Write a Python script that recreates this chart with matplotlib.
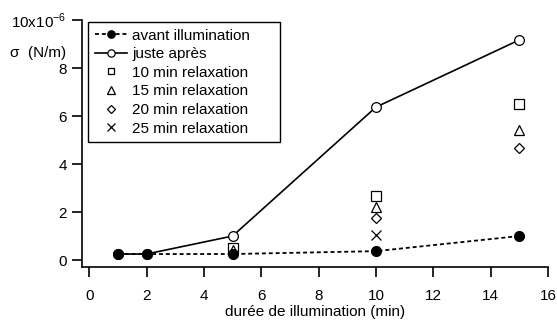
import numpy as np
import matplotlib
matplotlib.use("Agg")
import matplotlib.pyplot as plt

plt.rcParams['font.family'] = ['Liberation Sans', 'DejaVu Sans']
plt.rcParams['mathtext.fontset'] = 'custom'
plt.rcParams['mathtext.rm'] = 'Liberation Sans'

# durée d'illumination (min) et tension de surface (x1e-6 N/m)
t_avant = [1, 2, 5, 10, 15]
s_avant = [0.25, 0.25, 0.25, 0.37, 1.0]
t_apres = [1, 2, 5, 10, 15]
s_apres = [0.25, 0.25, 1.0, 6.37, 9.17]
t_r10 = [5, 10, 15]
s_r10 = [0.5, 2.67, 6.5]
t_r15 = [5, 10, 15]
s_r15 = [0.4, 2.2, 5.42]
t_r20 = [10, 15]
s_r20 = [1.75, 4.67]
t_r25 = [10]
s_r25 = [1.04]

yticks = [0, 2, 4, 6, 8, 10]
ytick_labels = ['0', '2', '4', '6', '8', r'10x10$^{\mathregular{-6}}$']
xticks = np.arange(0, 17, 2)

fs = 11

fig = plt.figure(figsize=(5.57, 3.21), dpi=100)
ax = fig.add_axes([82 / 557, 54 / 321, 466 / 557, 247 / 321])

ax.plot(t_apres, s_apres, '-', color='black', lw=1.2, marker='o', ms=7,
        mfc='white', mec='black', mew=0.9, label='juste après', zorder=3)
ax.plot(t_avant, s_avant, color='black', lw=1.3, ls=(0, (2.2, 1.6)), marker='o',
        ms=7, mfc='black', mec='black', label='avant illumination', zorder=4)
ax.plot(t_r10, s_r10, ls='none', marker='s', ms=6.5, mfc='none', mec='black',
        mew=0.9, label='10 min relaxation', zorder=3)
ax.plot(t_r15, s_r15, ls='none', marker='^', ms=7, mfc='none', mec='black',
        mew=0.9, label='15 min relaxation', zorder=3)
ax.plot(t_r20, s_r20, ls='none', marker='D', ms=5, mfc='none', mec='black',
        mew=0.9, label='20 min relaxation', zorder=3)
ax.plot(t_r25, s_r25, ls='none', marker='x', ms=7.5, mec='black',
        mew=0.9, label='25 min relaxation', zorder=3)

ax.set_xlim(-0.25, 16)
ax.set_ylim(-0.29, 10)
ax.set_xticks(xticks)
ax.set_yticks(yticks)
ax.set_yticklabels(ytick_labels)
ax.spines['top'].set_visible(False)
ax.spines['right'].set_visible(False)
for s in ['left', 'bottom']:
    ax.spines[s].set_linewidth(1.2)
ax.tick_params(direction='out', length=7, width=1.2, labelsize=fs, pad=4)
ax.tick_params(axis='x', pad=8.5)
ax.set_xlabel('durée de illumination (min)', fontsize=fs, labelpad=2)
fig.text(38 / 557, 1 - 53 / 321, 'σ  (N/m)', fontsize=fs, ha='center', va='center')

# legend: avant first, with some room on the right of the labels
handles, labels = ax.get_legend_handles_labels()
order = [1, 0, 2, 3, 4, 5]
leg = ax.legend([handles[i] for i in order],
                [labels[i] + '\u2003\u2002' for i in order],
                loc='upper left', bbox_to_anchor=(0.013, 0.993), fontsize=fs,
                frameon=True, fancybox=False, edgecolor='black', framealpha=1,
                handlelength=2.1, handletextpad=0.35, labelspacing=0.3,
                borderpad=0.45, borderaxespad=0, markerscale=0.75)
leg.get_frame().set_linewidth(1.0)

fig.savefig('out.png', dpi=100)
